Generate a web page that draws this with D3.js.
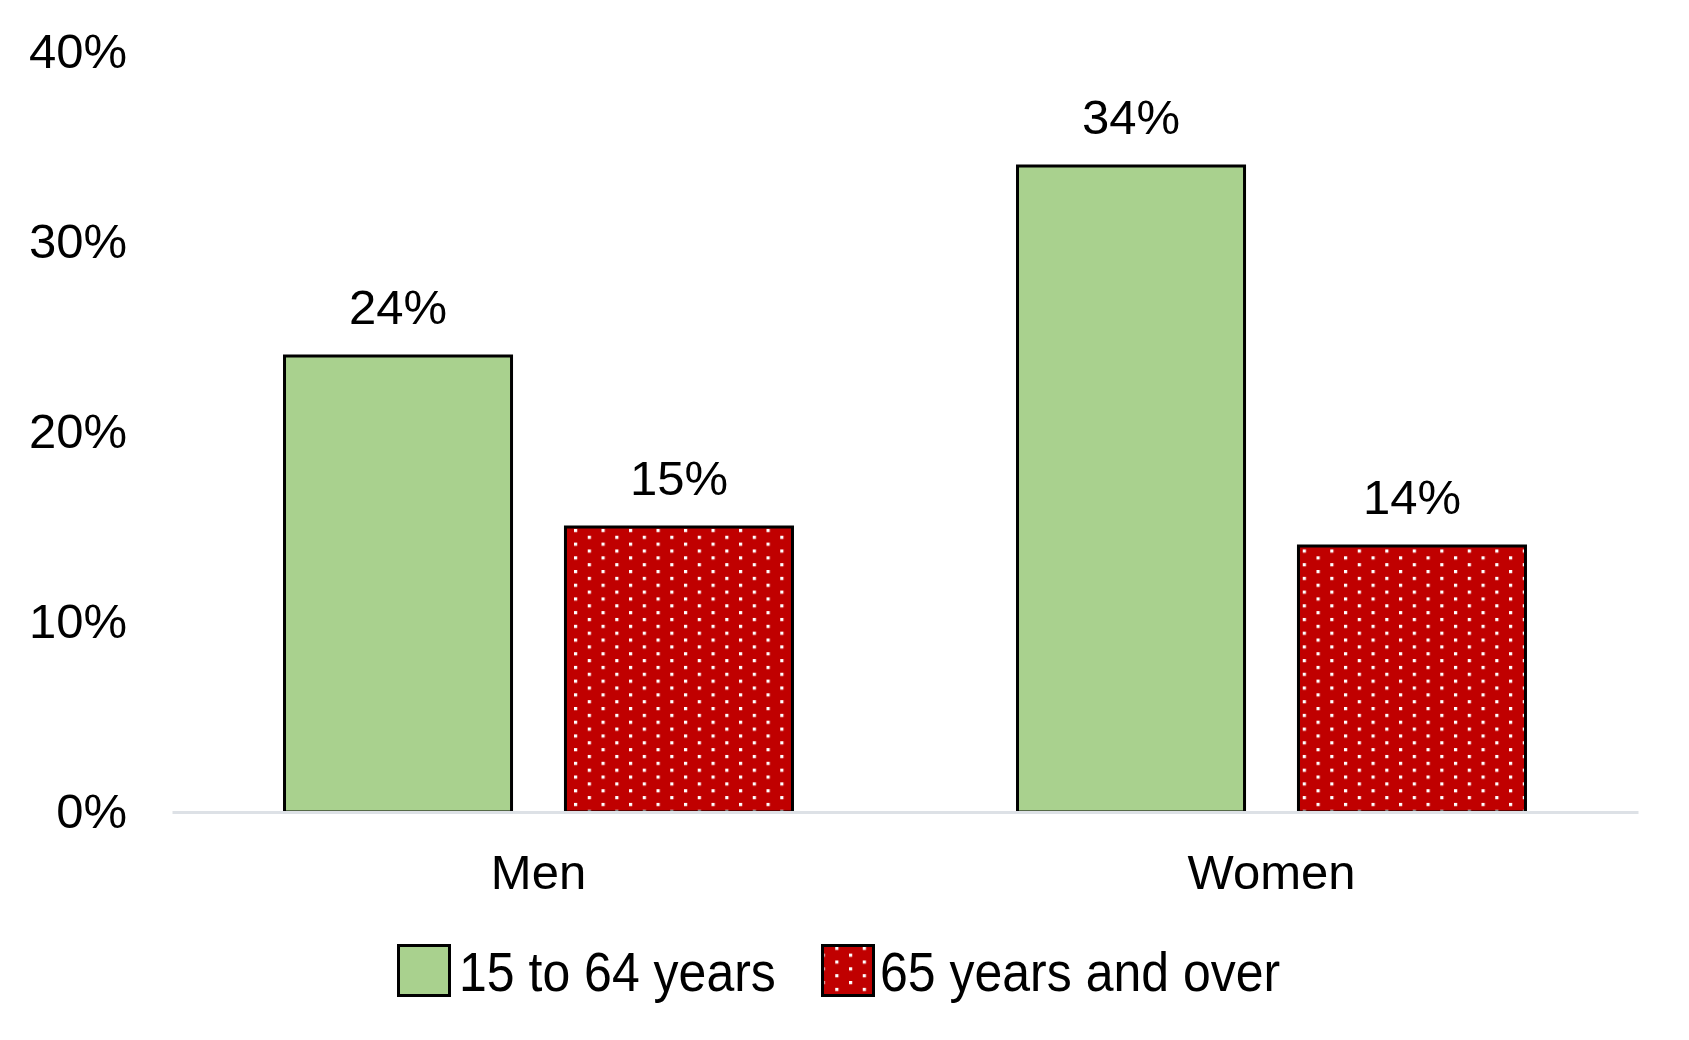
<!DOCTYPE html>
<html>
<head>
<meta charset="utf-8">
<script src="https://cdn.jsdelivr.net/npm/d3@7/dist/d3.min.js"></script>
<style>
  html, body { margin: 0; padding: 0; background: #fff; }
  svg { display: block; }
  text { font-family: "Liberation Sans", Arial, sans-serif; fill: #000; }
</style>
</head>
<body>
<svg id="chart" width="1689" height="1040"></svg>
<script>
// ---- data ----
const categories = ["Men", "Women"];
const seriesNames = ["15 to 64 years", "65 years and over"];
const values15to64 = [24, 34];
const values65plus = [15, 14];
const yTicks = [0, 10, 20, 30, 40];

const seriesValues = [values15to64, values65plus];
const rows = [];
categories.forEach((c, ci) => {
  seriesNames.forEach((s, si) => rows.push({ cat: c, series: s, value: seriesValues[si][ci] }));
});

// ---- layout ----
const svg = d3.select("#chart");
const FONT = 49;

const x = d3.scaleBand().domain(categories).range([172, 1638])
  .paddingInner(0.307).paddingOuter(0.1535);
const xs = d3.scaleBand().domain(seriesNames).range([0, x.bandwidth()])
  .paddingInner(0.192).paddingOuter(0);
const y = d3.scaleLinear().domain([0, 40]).range([812, 52]);

const fills = { "15 to 64 years": "#A9D18E", "65 years and over": "url(#dots)" };

// pattern: red with white staggered dots
const defs = svg.append("defs");
const pat = defs.append("pattern").attr("id", "dots")
  .attr("patternUnits", "userSpaceOnUse")
  .attr("width", 27.5).attr("height", 13.7)
  .attr("x", 24).attr("y", 8.3);
pat.append("rect").attr("width", 27.5).attr("height", 13.7).attr("fill", "#C00000");
pat.append("rect").attr("x", 0).attr("y", 0).attr("width", 3.2).attr("height", 3.2).attr("fill", "#fff");
pat.append("rect").attr("x", 13.75).attr("y", 6.85).attr("width", 3.2).attr("height", 3.2).attr("fill", "#fff");

// y axis labels
const yAxis = d3.axisLeft(y).tickValues(yTicks).tickSize(0).tickPadding(0)
  .tickFormat(d => d + "%");
const gy = svg.append("g").attr("transform", "translate(127,0)").call(yAxis);
gy.select(".domain").remove();
gy.selectAll("text").attr("font-size", FONT).attr("font-family", null).attr("fill", "#000");

// bars
svg.append("g").selectAll("rect").data(rows).join("rect")
  .attr("x", d => x(d.cat) + xs(d.series))
  .attr("y", d => y(d.value))
  .attr("width", xs.bandwidth())
  .attr("height", d => y(0) - y(d.value))
  .attr("fill", d => fills[d.series])
  .attr("stroke", "#000")
  .attr("stroke-width", 3);

// data labels
svg.append("g").selectAll("text").data(rows).join("text")
  .attr("x", d => x(d.cat) + xs(d.series) + xs.bandwidth() / 2)
  .attr("y", d => y(d.value) - 32)
  .attr("text-anchor", "middle")
  .attr("font-size", FONT)
  .text(d => d.value + "%");

// x axis
const xAxis = d3.axisBottom(x).tickSize(0).tickSizeOuter(0).tickPadding(42);
const gx = svg.append("g").attr("transform", "translate(0," + y(0) + ")").call(xAxis);
gx.select(".domain").attr("stroke", "#DDE1E6").attr("stroke-width", 3);
gx.selectAll("text").attr("font-size", FONT).attr("font-family", null).attr("fill", "#000");

// legend
const legendX = [398.5, 822.5];
const legendTextX = [459, 880];
const lg = svg.append("g");
seriesNames.forEach((s, i) => {
  lg.append("rect")
    .attr("x", legendX[i]).attr("y", 945.5)
    .attr("width", 51).attr("height", 50)
    .attr("fill", fills[s]).attr("stroke", "#000").attr("stroke-width", 3);
  lg.append("text")
    .attr("transform", "translate(" + legendTextX[i] + ",991) scale(1,1.12)")
    .attr("font-size", 50)
    .text(s);
});
</script>
</body>
</html>
